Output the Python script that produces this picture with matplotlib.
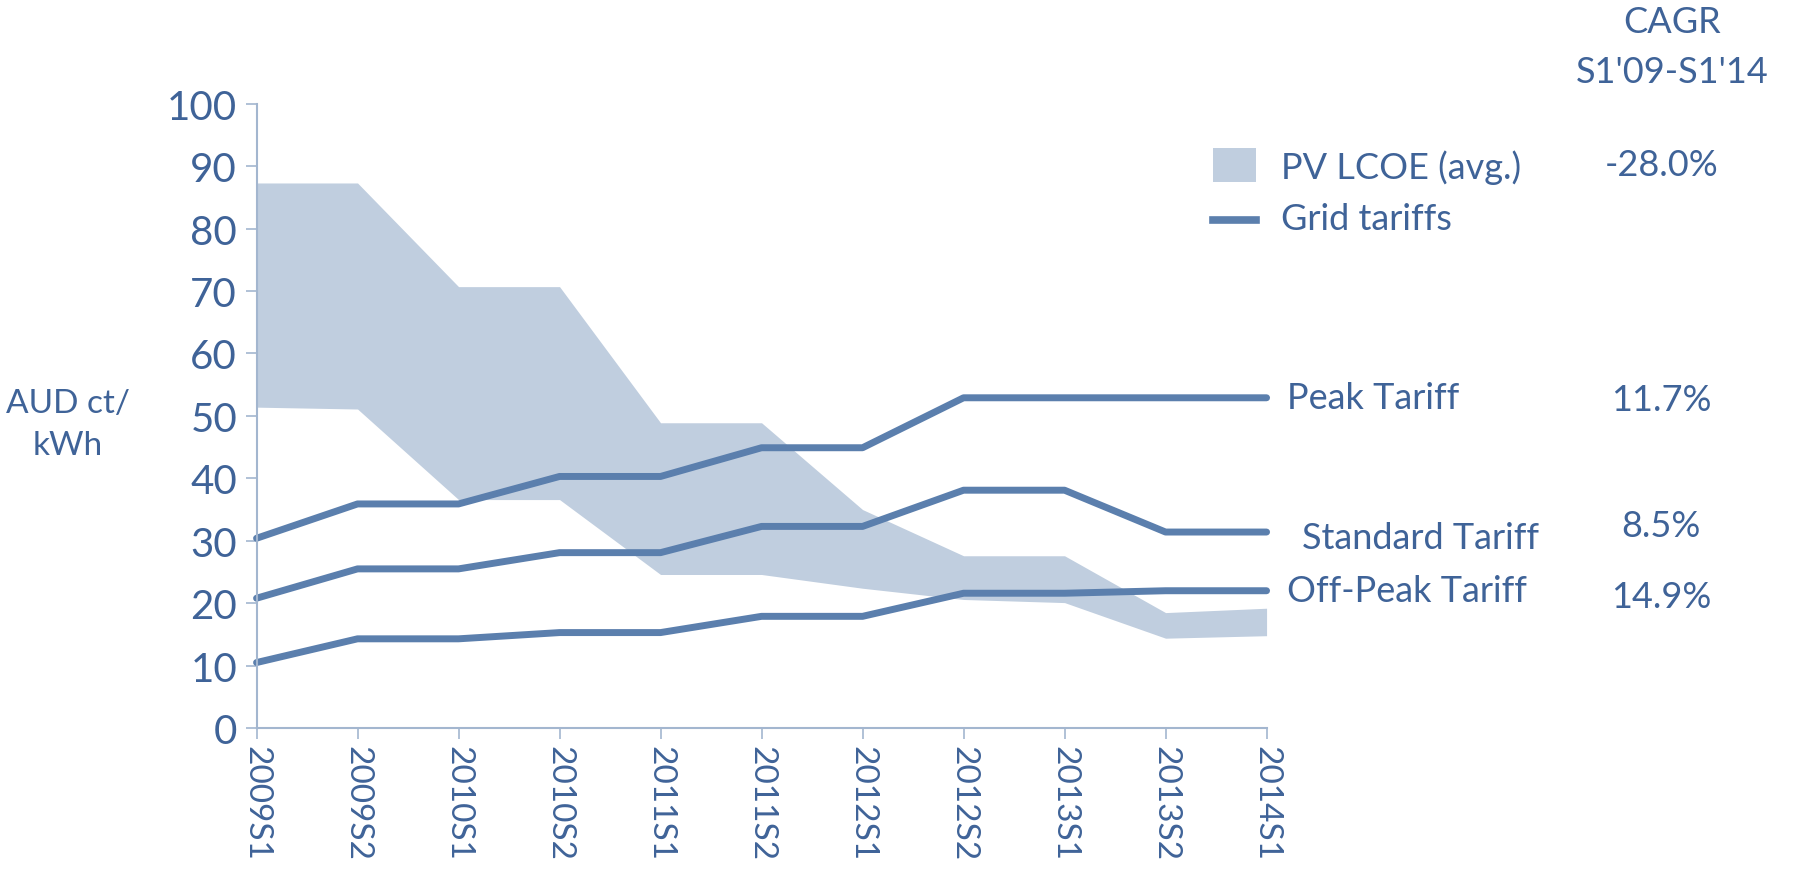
import matplotlib.pyplot as plt
import numpy as np

periods = ["2009S1", "2009S2", "2010S1", "2010S2", "2011S1", "2011S2",
           "2012S1", "2012S2", "2013S1", "2013S2", "2014S1"]
peak = [30.4, 35.9, 35.9, 40.3, 40.3, 44.9, 44.9, 52.9, 52.9, 52.9, 52.9]
standard = [20.8, 25.5, 25.5, 28.1, 28.1, 32.3, 32.3, 38.1, 38.1, 31.4, 31.4]
offpeak = [10.5, 14.3, 14.3, 15.3, 15.3, 17.9, 17.9, 21.6, 21.6, 22.0, 22.0]
lcoe_high = [87.3, 87.3, 70.7, 70.7, 48.9, 48.9, 35.0, 27.6, 27.6, 18.5, 19.2]
lcoe_low = [51.4, 51.1, 36.6, 36.6, 24.6, 24.6, 22.4, 20.6, 20.1, 14.4, 14.8]
tariff_names = ["Peak Tariff", "Standard Tariff", "Off-Peak Tariff"]
cagr_tariffs = ["11.7%", "8.5%", "14.9%"]
cagr_lcoe = "-28.0%"

line_col = "#5b7fad"
band_col = "#c0cedf"
text_col = "#3f6398"
axis_col = "#a3b6cf"

plt.rcParams['font.family'] = ['Lato', 'DejaVu Sans']

fig = plt.figure(figsize=(17.94, 8.87), dpi=100)
ax = fig.add_axes([0.143, 0.178, 0.563, 0.704])

x = np.arange(len(periods))
ax.fill_between(x, lcoe_low, lcoe_high, color=band_col, lw=0)
for vals in (peak, standard, offpeak):
    ax.plot(x, vals, color=line_col, lw=5, solid_capstyle="round",
            solid_joinstyle="round", clip_on=False)

ax.set_xlim(0, len(periods) - 1)
ax.set_ylim(0, 100)
ax.set_yticks(range(0, 101, 10))
ax.set_xticks(x)
ax.set_xticklabels(periods, rotation=-90, va="top", ha="center")
for s in ("top", "right"):
    ax.spines[s].set_visible(False)
for s in ("left", "bottom"):
    ax.spines[s].set_color(axis_col)
    ax.spines[s].set_linewidth(1.5)
ax.tick_params(axis="y", colors=axis_col, labelcolor=text_col, labelsize=29,
               length=8, width=1.2, pad=6)
ax.tick_params(axis="x", colors=axis_col, labelcolor=text_col, labelsize=24,
               length=8, width=1.2, pad=4)

fig.text(0.038, 0.521, "AUD ct/\nkWh", color=text_col, fontsize=24,
         ha="center", va="center", linespacing=1.5)

# legend
fig.patches.append(plt.Rectangle((0.676, 0.794), 0.024, 0.038, transform=fig.transFigure,
                                 color=band_col, lw=0))
fig.lines.append(plt.Line2D([0.676, 0.700], [0.751, 0.751], transform=fig.transFigure,
                            color=line_col, lw=5.5))
fig.text(0.714, 0.811, "PV LCOE (avg.)", color=text_col, fontsize=26, va="center")
fig.text(0.714, 0.752, "Grid tariffs", color=text_col, fontsize=26, va="center")

# CAGR column
cx = 0.932
fig.text(cx, 0.975, "CAGR", color=text_col, fontsize=26, ha="center", va="center")
fig.text(cx, 0.918, "S1'09-S1'14", color=text_col, fontsize=26, ha="center", va="center")
fig.text(cx - 0.006, 0.813, cagr_lcoe, color=text_col, fontsize=26, ha="center", va="center")

# tariff labels
label_y = [peak[-1], standard[-1] - 0.8, offpeak[-1]]
label_dx = [0.2, 0.35, 0.2]
cagr_y = [0.548, 0.406, 0.326]
for name, yv, dx, rate, cy in zip(tariff_names, label_y, label_dx, cagr_tariffs, cagr_y):
    ax.text(len(periods) - 1 + dx, yv, name, color=text_col, fontsize=26,
            va="center", ha="left", clip_on=False)
    fig.text(cx - 0.006, cy, rate, color=text_col, fontsize=26, ha="center", va="center")

fig.savefig("out.png", dpi=100)
